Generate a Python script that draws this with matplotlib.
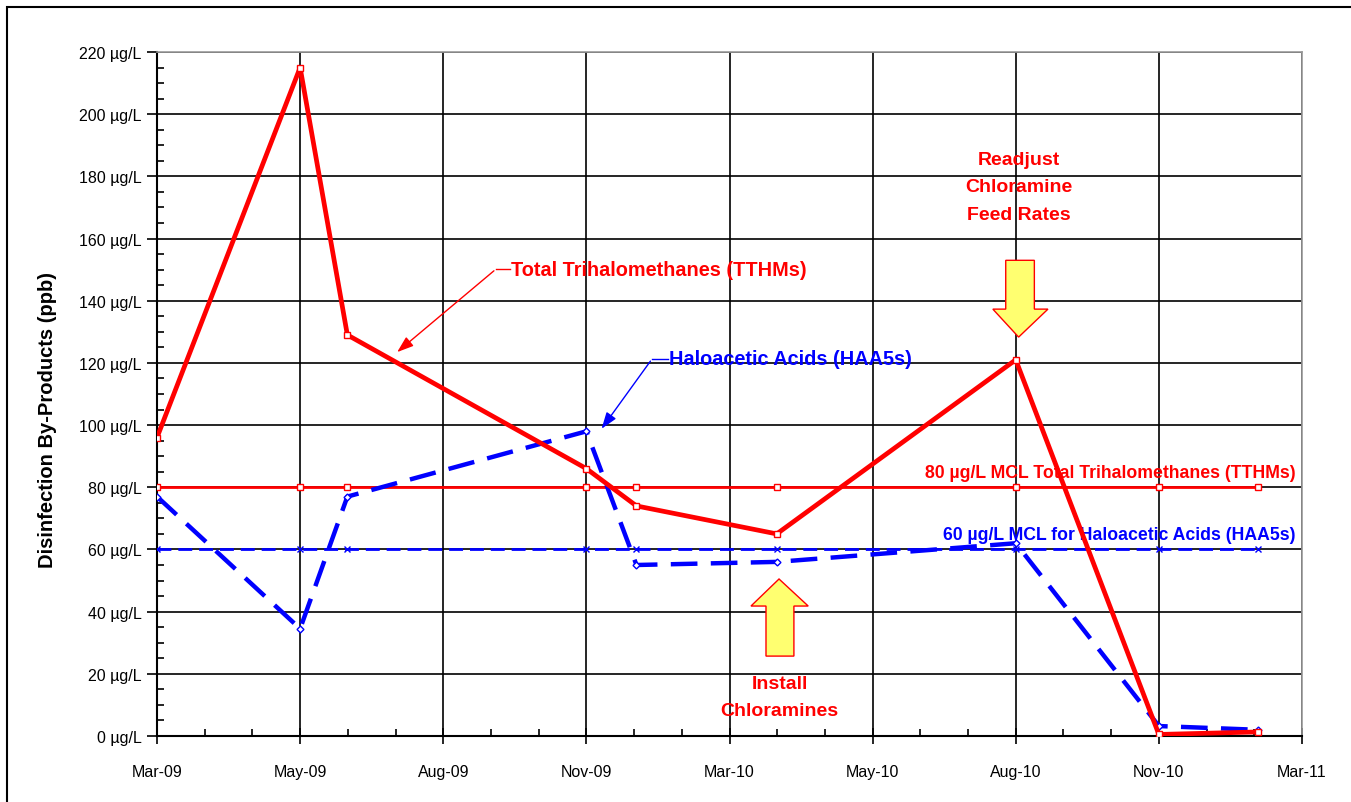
import matplotlib.pyplot as plt
from matplotlib.patches import Polygon, Rectangle

# sample positions on the date axis (axis units: one per major tick interval)
tick_labels = ["Mar-09", "May-09", "Aug-09", "Nov-09", "Mar-10",
               "May-10", "Aug-10", "Nov-10", "Mar-11"]
sample_x = [0.0, 1.0, 1.33, 3.0, 3.35, 4.33, 6.0, 7.0, 7.69]

tthm = [96, 215, 129, 86, 74, 65, 121, 0.5, 1.3]
haa5 = [77, 34.5, 77, 98, 55, 56, 62, 3.2, 2]
tthm_mcl = [80] * len(sample_x)
haa5_mcl = [60] * len(sample_x)

RED = "#FF0000"
BLUE = "#0000FF"
NARROW = ["Liberation Sans Narrow", "Liberation Sans", "DejaVu Sans"]

plt.rcParams["font.family"] = ["Liberation Sans", "DejaVu Sans"]

fig = plt.figure(figsize=(13.51, 8.03), dpi=100)
ax = fig.add_axes([157 / 1351, 1 - 737 / 803, (1302 - 157) / 1351, (737 - 53) / 803])

# outer chart border
fig.patches.append(Rectangle((7 / 1351, -0.1), 1.2, 1.1 - 8 / 803,
                             transform=fig.transFigure, fill=False,
                             edgecolor="black", linewidth=1.5))

ax.set_xlim(0, 8)
ax.set_ylim(0, 220)
ax.set_xticks(range(len(tick_labels)))
ax.set_xticklabels(tick_labels)
ax.set_xticks([i / 3 for i in range(25) if i % 3], minor=True)
ax.set_yticks(range(0, 221, 20))
ax.set_yticklabels([f"{v} µg/L" for v in range(0, 221, 20)])
ax.set_yticks([v for v in range(0, 221, 5) if v % 20], minor=True)
ax.grid(True, which="major", color="black", linewidth=1.2)
ax.set_axisbelow(True)

ax.tick_params(axis="both", which="major", length=7, width=1.2, labelsize=11.5)
ax.tick_params(axis="y", which="major", direction="out", pad=4)
ax.tick_params(axis="x", which="major", direction="inout", length=12, pad=14)
ax.tick_params(axis="both", which="minor", direction="in", length=5, width=1.2)
for s in ["top", "right"]:
    ax.spines[s].set_color("#999999")
    ax.spines[s].set_linewidth(1.2)
for s in ["left", "bottom"]:
    ax.spines[s].set_linewidth(1.5)

ax.set_ylabel("Disinfection By-Products (ppb)", fontsize=14.5, fontweight="bold")
ax.yaxis.set_label_coords(-0.087, 0.463)

# MCL lines
ax.plot(sample_x, tthm_mcl, color=RED, linewidth=2, marker="s", markersize=4,
        markerfacecolor="white", markeredgecolor=RED, markeredgewidth=1, zorder=3)
ax.plot(sample_x, haa5_mcl, color=BLUE, linewidth=2, dashes=(5, 2.5),
        marker="x", markersize=4, markeredgecolor=BLUE, markeredgewidth=1, zorder=3)

# measured series
ax.plot(sample_x, haa5, color=BLUE, linewidth=3.2, dashes=(6, 3),
        marker="D", markersize=3.5, markerfacecolor="white", markeredgecolor=BLUE,
        markeredgewidth=1, zorder=4)
ax.plot(sample_x, tthm, color=RED, linewidth=3.4, marker="s", markersize=4,
        markerfacecolor="white", markeredgecolor=RED, markeredgewidth=1, zorder=5)

# series labels with leader arrows
ax.text(2.47, 150.2, "Total Trihalomethanes (TTHMs)", color=RED, fontsize=14.3,
        fontweight="bold", family=NARROW, va="center", ha="left")
ax.plot([2.466, 2.369], [150.2, 150.2], color=RED, linewidth=1)
ax.annotate("", xy=(1.663, 122.9), xytext=(2.369, 150.2),
            arrowprops=dict(arrowstyle="-|>,head_length=1.0,head_width=0.35",
                            color=RED, linewidth=1))

ax.text(3.575, 121.3, "Haloacetic Acids (HAA5s)", color=BLUE, fontsize=14.3,
        fontweight="bold", family=NARROW, va="center", ha="left")
ax.plot([3.57, 3.459], [121.3, 121.3], color=BLUE, linewidth=1)
ax.annotate("", xy=(3.095, 98.1), xytext=(3.459, 121.3),
            arrowprops=dict(arrowstyle="-|>,head_length=1.0,head_width=0.35",
                            color=BLUE, linewidth=1))

ax.text(7.958, 84.6, "80 µg/L MCL Total Trihalomethanes (TTHMs)", color=RED,
        fontsize=12.7, fontweight="bold", family=NARROW, va="center", ha="right")
ax.text(7.958, 64.7, "60 µg/L MCL for Haloacetic Acids (HAA5s)", color=BLUE,
        fontsize=12.7, fontweight="bold", family=NARROW, va="center", ha="right")

# event arrows
down = [(5.93, 153), (6.13, 153), (6.13, 137.3), (6.225, 137.3), (6.02, 128.3),
        (5.84, 137.3), (5.93, 137.3)]
up = [(4.255, 25.7), (4.45, 25.7), (4.45, 41.8), (4.55, 41.8), (4.346, 50.5),
      (4.15, 41.8), (4.255, 41.8)]
for pts in (down, up):
    ax.add_patch(Polygon(pts, closed=True, facecolor="#FFFF70", edgecolor=RED,
                         linewidth=1, zorder=6))

ax.text(6.02, 176.6, "Readjust\nChloramine\nFeed Rates", color=RED, fontsize=14,
        fontweight="bold", family=NARROW, ha="center", va="center",
        linespacing=1.8)
ax.text(4.35, 12.5, "Install\nChloramines", color=RED, fontsize=14,
        fontweight="bold", family=NARROW, ha="center", va="center",
        linespacing=1.8)

fig.savefig("out.png", dpi=100)
